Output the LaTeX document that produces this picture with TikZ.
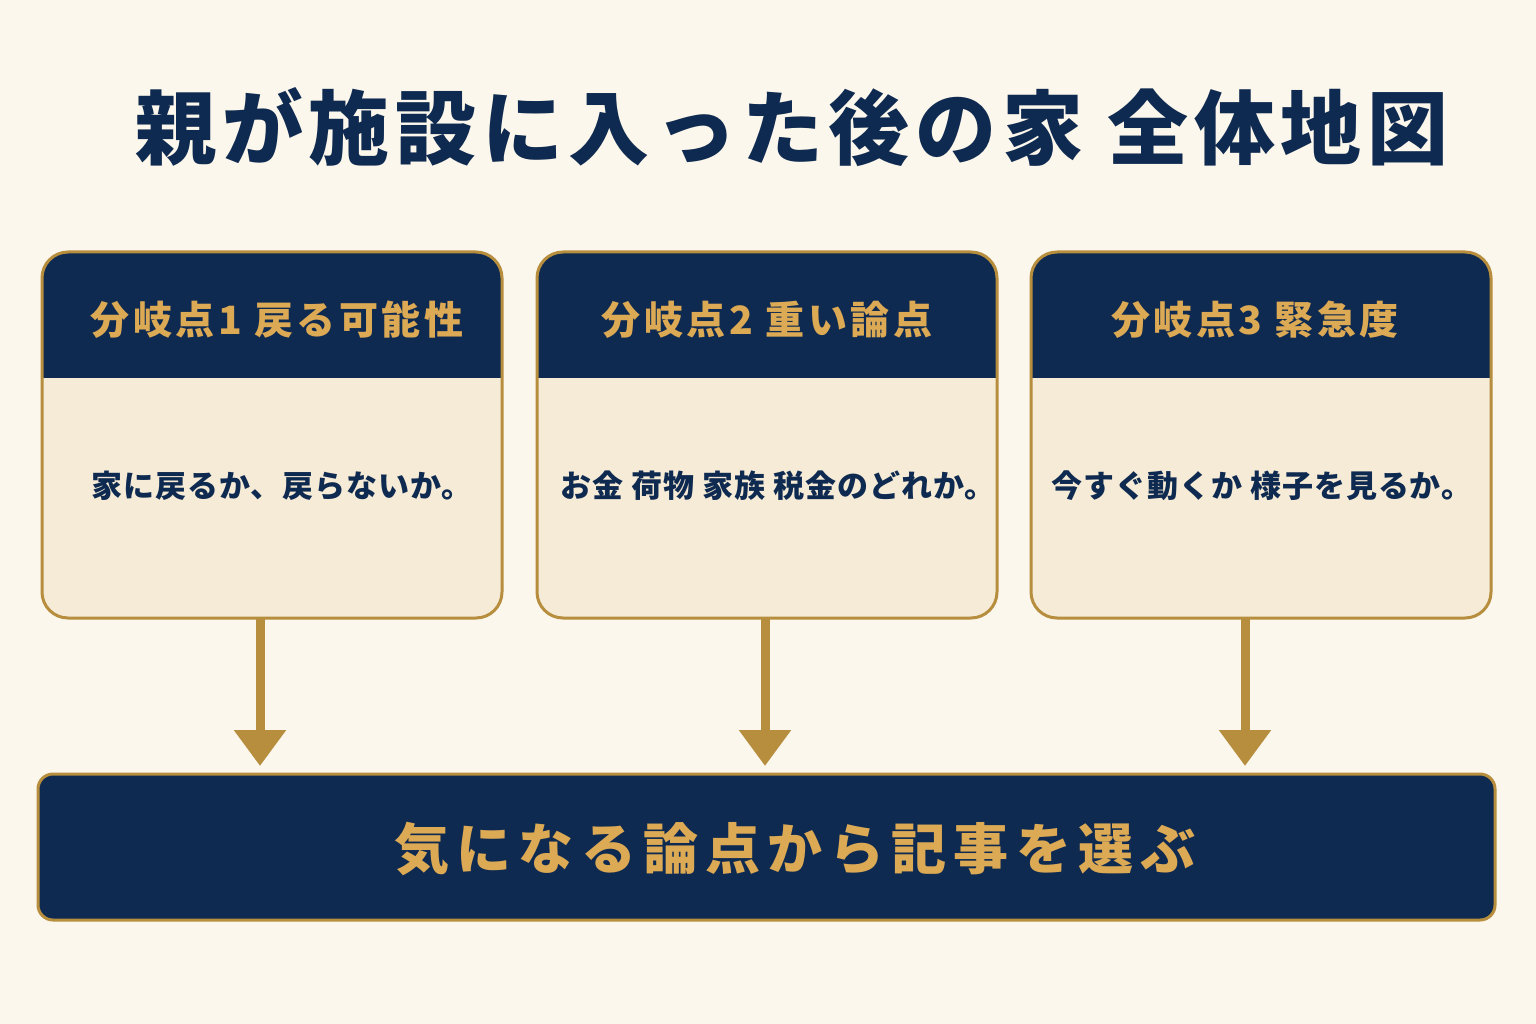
\documentclass[tikz,border=0pt]{standalone}
\usepackage{fontspec}
\newfontfamily\cjk{Noto Sans CJK JP}
\usetikzlibrary{arrows.meta}
\definecolor{bgc}{HTML}{FCF7EC}
\definecolor{navy}{HTML}{0F2A50}
\definecolor{goldl}{HTML}{B68E3E}
\definecolor{goldt}{HTML}{DCA955}
\definecolor{cream}{HTML}{F5EBD6}
\tikzset{
  card/.style={draw=goldl, line width=3pt, rounded corners=26pt},
  headtxt/.style={text=goldt, font=\cjk\bfseries\fontsize{39}{44}\selectfont\addfontfeature{LetterSpace=9}, anchor=center},
  bodytxt/.style={text=navy, font=\cjk\bfseries\fontsize{31}{36}\selectfont\addfontfeature{LetterSpace=3}, anchor=center},
  flow/.style={draw=goldl, line width=9pt, -{Triangle[length=36pt,width=50pt]}, shorten >=0pt},
}
\begin{document}
\begin{tikzpicture}[x=1pt,y=-1pt]
\fill[bgc] (0,0) rectangle (1536,1024);
\useasboundingbox (0,0) rectangle (1536,1024);
% title
\node[text=navy, font=\cjk\bfseries\fontsize{81}{90}\selectfont\addfontfeature{LetterSpace=7}] (title) at (792,127) {親が施設に入った後の家 全体地図};
% cards
\foreach \i/\x in {1/42,2/537,3/1031}{
  \begin{scope}
    \clip[rounded corners=26pt] (\x,252) rectangle (\x+460,618);
    \fill[navy] (\x,252) rectangle (\x+460,378);
    \fill[cream] (\x,378) rectangle (\x+460,618);
  \end{scope}
  \draw[card] (\x,252) rectangle (\x+460,618);
  \coordinate (c\i) at (\x+230,618);
}
\node[headtxt] (h1) at (277,320) {分岐点1 戻る可能性};
\node[headtxt] (h2) at (767,320) {分岐点2 重い論点};
\node[headtxt] (h3) at (1255,320) {分岐点3 緊急度};
\node[bodytxt] (b1) at (282,486) {家に戻るか、戻らないか。};
\node[bodytxt] (b2) at (778,486) {お金 荷物 家族 税金のどれか。};
\node[bodytxt] (b3) at (1262,486) {今すぐ動くか 様子を見るか。};
% bottom
\node[draw=goldl, fill=navy, line width=3pt, rounded corners=15pt, minimum width=1457pt, minimum height=146pt, inner sep=0pt] (goal) at (766.5,847) {};
\node[text=goldt, font=\cjk\bfseries\fontsize{55}{60}\selectfont\addfontfeature{LetterSpace=13}] (goaltxt) at (795,849) {気になる論点から記事を選ぶ};
\coordinate (a1) at (260,618);
\coordinate (a2) at (765,618);
\coordinate (a3) at (1245,618);
\coordinate (t1) at (260,766);
\coordinate (t2) at (765,766);
\coordinate (t3) at (1245,766);
\draw[flow] (a1) -- (t1);
\draw[flow] (a2) -- (t2);
\draw[flow] (a3) -- (t3);
\end{tikzpicture}
\end{document}
